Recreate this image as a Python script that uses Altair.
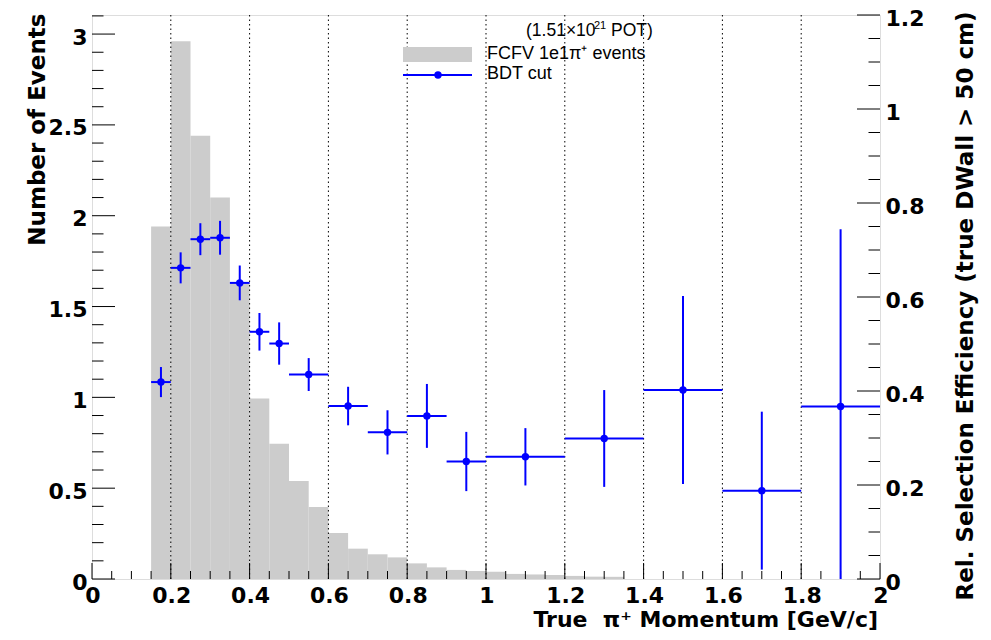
import altair as alt
import pandas as pd

# ---------------- data ----------------
hist_lo = [0.15, 0.20, 0.25, 0.30, 0.35, 0.40, 0.45, 0.50, 0.55, 0.60,
           0.65, 0.70, 0.75, 0.80, 0.85, 0.90, 0.95, 1.00, 1.05, 1.10,
           1.15, 1.20, 1.25, 1.30]
hist_counts = [1.94, 2.96, 2.44, 2.10, 1.635, 0.994, 0.745, 0.539, 0.396, 0.253,
               0.167, 0.136, 0.119, 0.086, 0.064, 0.050, 0.044, 0.040, 0.028, 0.025,
               0.022, 0.017, 0.013, 0.012]
hist_width = 0.05

eff_lo = [0.15, 0.20, 0.25, 0.30, 0.35, 0.40, 0.45, 0.50, 0.60, 0.70, 0.80, 0.90, 1.00, 1.20, 1.40, 1.60, 1.80]
eff_hi = [0.20, 0.25, 0.30, 0.35, 0.40, 0.45, 0.50, 0.60, 0.70, 0.80, 0.90, 1.00, 1.20, 1.40, 1.60, 1.80, 2.00]
eff_val = [0.419, 0.662, 0.723, 0.726, 0.630, 0.526, 0.501, 0.435, 0.368, 0.312,
           0.347, 0.250, 0.260, 0.299, 0.402, 0.188, 0.367]
eff_err = [0.032, 0.033, 0.034, 0.036, 0.037, 0.040, 0.045, 0.035, 0.041, 0.047,
           0.068, 0.063, 0.061, 0.103, 0.200, 0.168, 0.377]

x_labels = [0, 0.2, 0.4, 0.6, 0.8, 1, 1.2, 1.4, 1.6, 1.8, 2]
x_label_text = ["0", "0.2", "0.4", "0.6", "0.8", "1", "1.2", "1.4", "1.6", "1.8", "2"]
x_grid = [0.2, 0.4, 0.6, 0.8, 1.0, 1.2, 1.4, 1.6, 1.8]
x_minor = [0.05, 0.1, 0.15, 0.25, 0.3, 0.35, 0.45, 0.5, 0.55, 0.65, 0.7, 0.75,
           0.85, 0.9, 0.95, 1.05, 1.1, 1.15, 1.25, 1.3, 1.35, 1.45, 1.5, 1.55,
           1.65, 1.7, 1.75, 1.85, 1.9, 1.95]
left_major = [0, 0.5, 1, 1.5, 2, 2.5, 3]
left_minor = [0.1, 0.2, 0.3, 0.4, 0.6, 0.7, 0.8, 0.9, 1.1, 1.2, 1.3, 1.4, 1.6, 1.7,
              1.8, 1.9, 2.1, 2.2, 2.3, 2.4, 2.6, 2.7, 2.8, 2.9, 3.1]
right_major = [0, 0.2, 0.4, 0.6, 0.8, 1.0, 1.2]
right_minor = [0.05, 0.1, 0.15, 0.25, 0.3, 0.35, 0.45, 0.5, 0.55, 0.65, 0.7, 0.75,
               0.85, 0.9, 0.95, 1.05, 1.1, 1.15]

x_title = "True\u00a0 π⁺ Momentum [GeV/c]"

# ---------------- tables ----------------
df_hist = pd.DataFrame({
    "lo": hist_lo,
    "hi": [v + hist_width for v in hist_lo],
    "n": hist_counts,
    "zero": [0.0] * len(hist_lo),
})
df_eff = pd.DataFrame({"lo": eff_lo, "hi": eff_hi, "eff": eff_val, "err": eff_err})
df_eff["mid"] = (df_eff["lo"] + df_eff["hi"]) / 2
df_eff["dn"] = (df_eff["eff"] - df_eff["err"]).clip(lower=0)
df_eff["up"] = df_eff["eff"] + df_eff["err"]
df_xlab = pd.DataFrame({"v": x_labels, "t": x_label_text})

W, H = 788, 564
FONT = "Liberation Sans"
AXFONT = "DejaVu Sans"
BLUE = "#0000ff"

xs = alt.Scale(domain=[0, 2], nice=False, zero=False)
ys_left = alt.Scale(domain=[0, 3.105], nice=False, zero=False)
ys_right = alt.Scale(domain=[0, 1.2], nice=False, zero=False)

left_axis = alt.Axis(
    orient="left", values=left_major, format="~g", ticks=False, tickSize=0,
    domain=False, grid=False, labelFont=AXFONT, labelFontWeight="bold",
    labelFontSize=22, labelColor="black", labelPadding=5, labelFlush=False,
    labelOverlap=False, labelOffset=3,
    title="Number of Events", titleFont=AXFONT, titleFontWeight="bold",
    titleFontSize=23, titleColor="black", titleAngle=270, titleAlign="right",
    titleBaseline="middle", titleX=-55, titleY=-2,
)
right_axis = alt.Axis(
    orient="right", values=right_major, format="~g", ticks=False, tickSize=0,
    domain=False, grid=False, labelFont=AXFONT, labelFontWeight="bold",
    labelFontSize=22, labelColor="black", labelPadding=5, labelFlush=False,
    labelOverlap=False, labelOffset=3,
    title="Rel. Selection Efficiency (true DWall > 50 cm)", titleFont=AXFONT,
    titleFontWeight="bold", titleFontSize=23, titleColor="black", titleAngle=270,
    titleAlign="right", titleBaseline="middle", titleX=85, titleY=-4,
)

# histogram (carries the left y axis)
hist = alt.Chart(df_hist).mark_rect(color="#cccccc").encode(
    x=alt.X("lo:Q", scale=xs, axis=None),
    x2="hi:Q",
    y=alt.Y("n:Q", scale=ys_left, axis=left_axis),
    y2="zero:Q",
)

# x-axis labels and title, placed through the x scale
x_lab = alt.Chart(df_xlab).mark_text(
    font=AXFONT, fontWeight="bold", fontSize=22, align="center",
    baseline="alphabetic", color="black", dx=1
).encode(
    x=alt.X("v:Q", scale=xs, axis=None),
    y=alt.value(H + 24),
    text="t:N",
)
x_tit = alt.Chart(pd.DataFrame({"t": [x_title]})).mark_text(
    font=AXFONT, fontWeight="bold", fontSize=22, align="right",
    baseline="alphabetic", color="black"
).encode(x=alt.value(W - 2), y=alt.value(H + 48), text="t:N")

# dotted vertical grid
grid = alt.Chart(pd.DataFrame({"v": x_grid})).mark_rule(
    color="black", strokeWidth=1, strokeDash=[1.5, 3]
).encode(x=alt.X("v:Q", scale=xs, axis=None))

# efficiency with error bars
eff_h = alt.Chart(df_eff).mark_rule(color=BLUE, strokeWidth=2).encode(
    x=alt.X("lo:Q", scale=xs, axis=None),
    x2="hi:Q",
    y=alt.Y("eff:Q", scale=ys_right, axis=right_axis),
)
eff_v = alt.Chart(df_eff).mark_rule(color=BLUE, strokeWidth=2).encode(
    x=alt.X("mid:Q", scale=xs, axis=None),
    y=alt.Y("dn:Q", scale=ys_right, axis=None),
    y2="up:Q",
)
eff_p = alt.Chart(df_eff).mark_point(
    shape="circle", filled=True, color=BLUE, opacity=1, size=55
).encode(
    x=alt.X("mid:Q", scale=xs, axis=None),
    y=alt.Y("eff:Q", scale=ys_right, axis=None),
)

# inward ticks
def xticks(vals, length):
    return alt.Chart(pd.DataFrame({"v": vals})).mark_rule(color="black", strokeWidth=1).encode(
        x=alt.X("v:Q", scale=xs, axis=None),
        y=alt.value(H), y2=alt.value(H - length),
    )

def yticks(vals, scale, x0, x1):
    return alt.Chart(pd.DataFrame({"v": vals})).mark_rule(color="black", strokeWidth=1).encode(
        y=alt.Y("v:Q", scale=scale, axis=None),
        x=alt.value(x0), x2=alt.value(x1),
    )

ticks = [
    xticks(x_labels, 16), xticks(x_minor, 8),
    yticks(left_major, ys_left, 0, 23), yticks(left_minor, ys_left, 0, 11.5),
    yticks(right_major, ys_right, W, W - 23), yticks(right_minor, ys_right, W, W - 11.5),
]

# legend (drawn by hand)
one = pd.DataFrame({"a": [0]})
leg_box = alt.Chart(one).mark_rect(color="#cccccc").encode(
    x=alt.value(311), x2=alt.value(380), y=alt.value(32), y2=alt.value(47)
)
leg_line = alt.Chart(one).mark_rule(color=BLUE, strokeWidth=2).encode(
    x=alt.value(311), x2=alt.value(380), y=alt.value(60)
)
leg_dot = alt.Chart(one).mark_point(shape="circle", filled=True, color=BLUE, opacity=1, size=55).encode(
    x=alt.value(346), y=alt.value(60)
)
def leg_text(txt, x, y, size):
    return alt.Chart(one).mark_text(
        text=txt, font=FONT, fontSize=size, align="left", baseline="middle", color="black"
    ).encode(x=alt.value(x), y=alt.value(y))

legend = [
    leg_box, leg_line, leg_dot,
    leg_text("(1.51×10", 434, 16, 17.5),
    leg_text("21", 502, 11, 11),
    leg_text("POT)", 519, 16, 17.5),
    leg_text("FCFV 1e1π⁺ events", 395, 39, 18),
    leg_text("BDT cut", 395, 59, 18),
]

chart = alt.layer(
    hist, grid, *ticks, eff_h, eff_v, eff_p, *legend, x_lab, x_tit
).resolve_scale(y="independent").properties(
    width=W, height=H,
    autosize=alt.AutoSizeParams(type="none"),
    padding={"left": 84, "top": 7, "right": 103, "bottom": 56},
).configure_view(stroke="black", strokeWidth=1).configure(font=FONT)

chart.save("out.html", embed_options={"renderer": "svg", "actions": False})
